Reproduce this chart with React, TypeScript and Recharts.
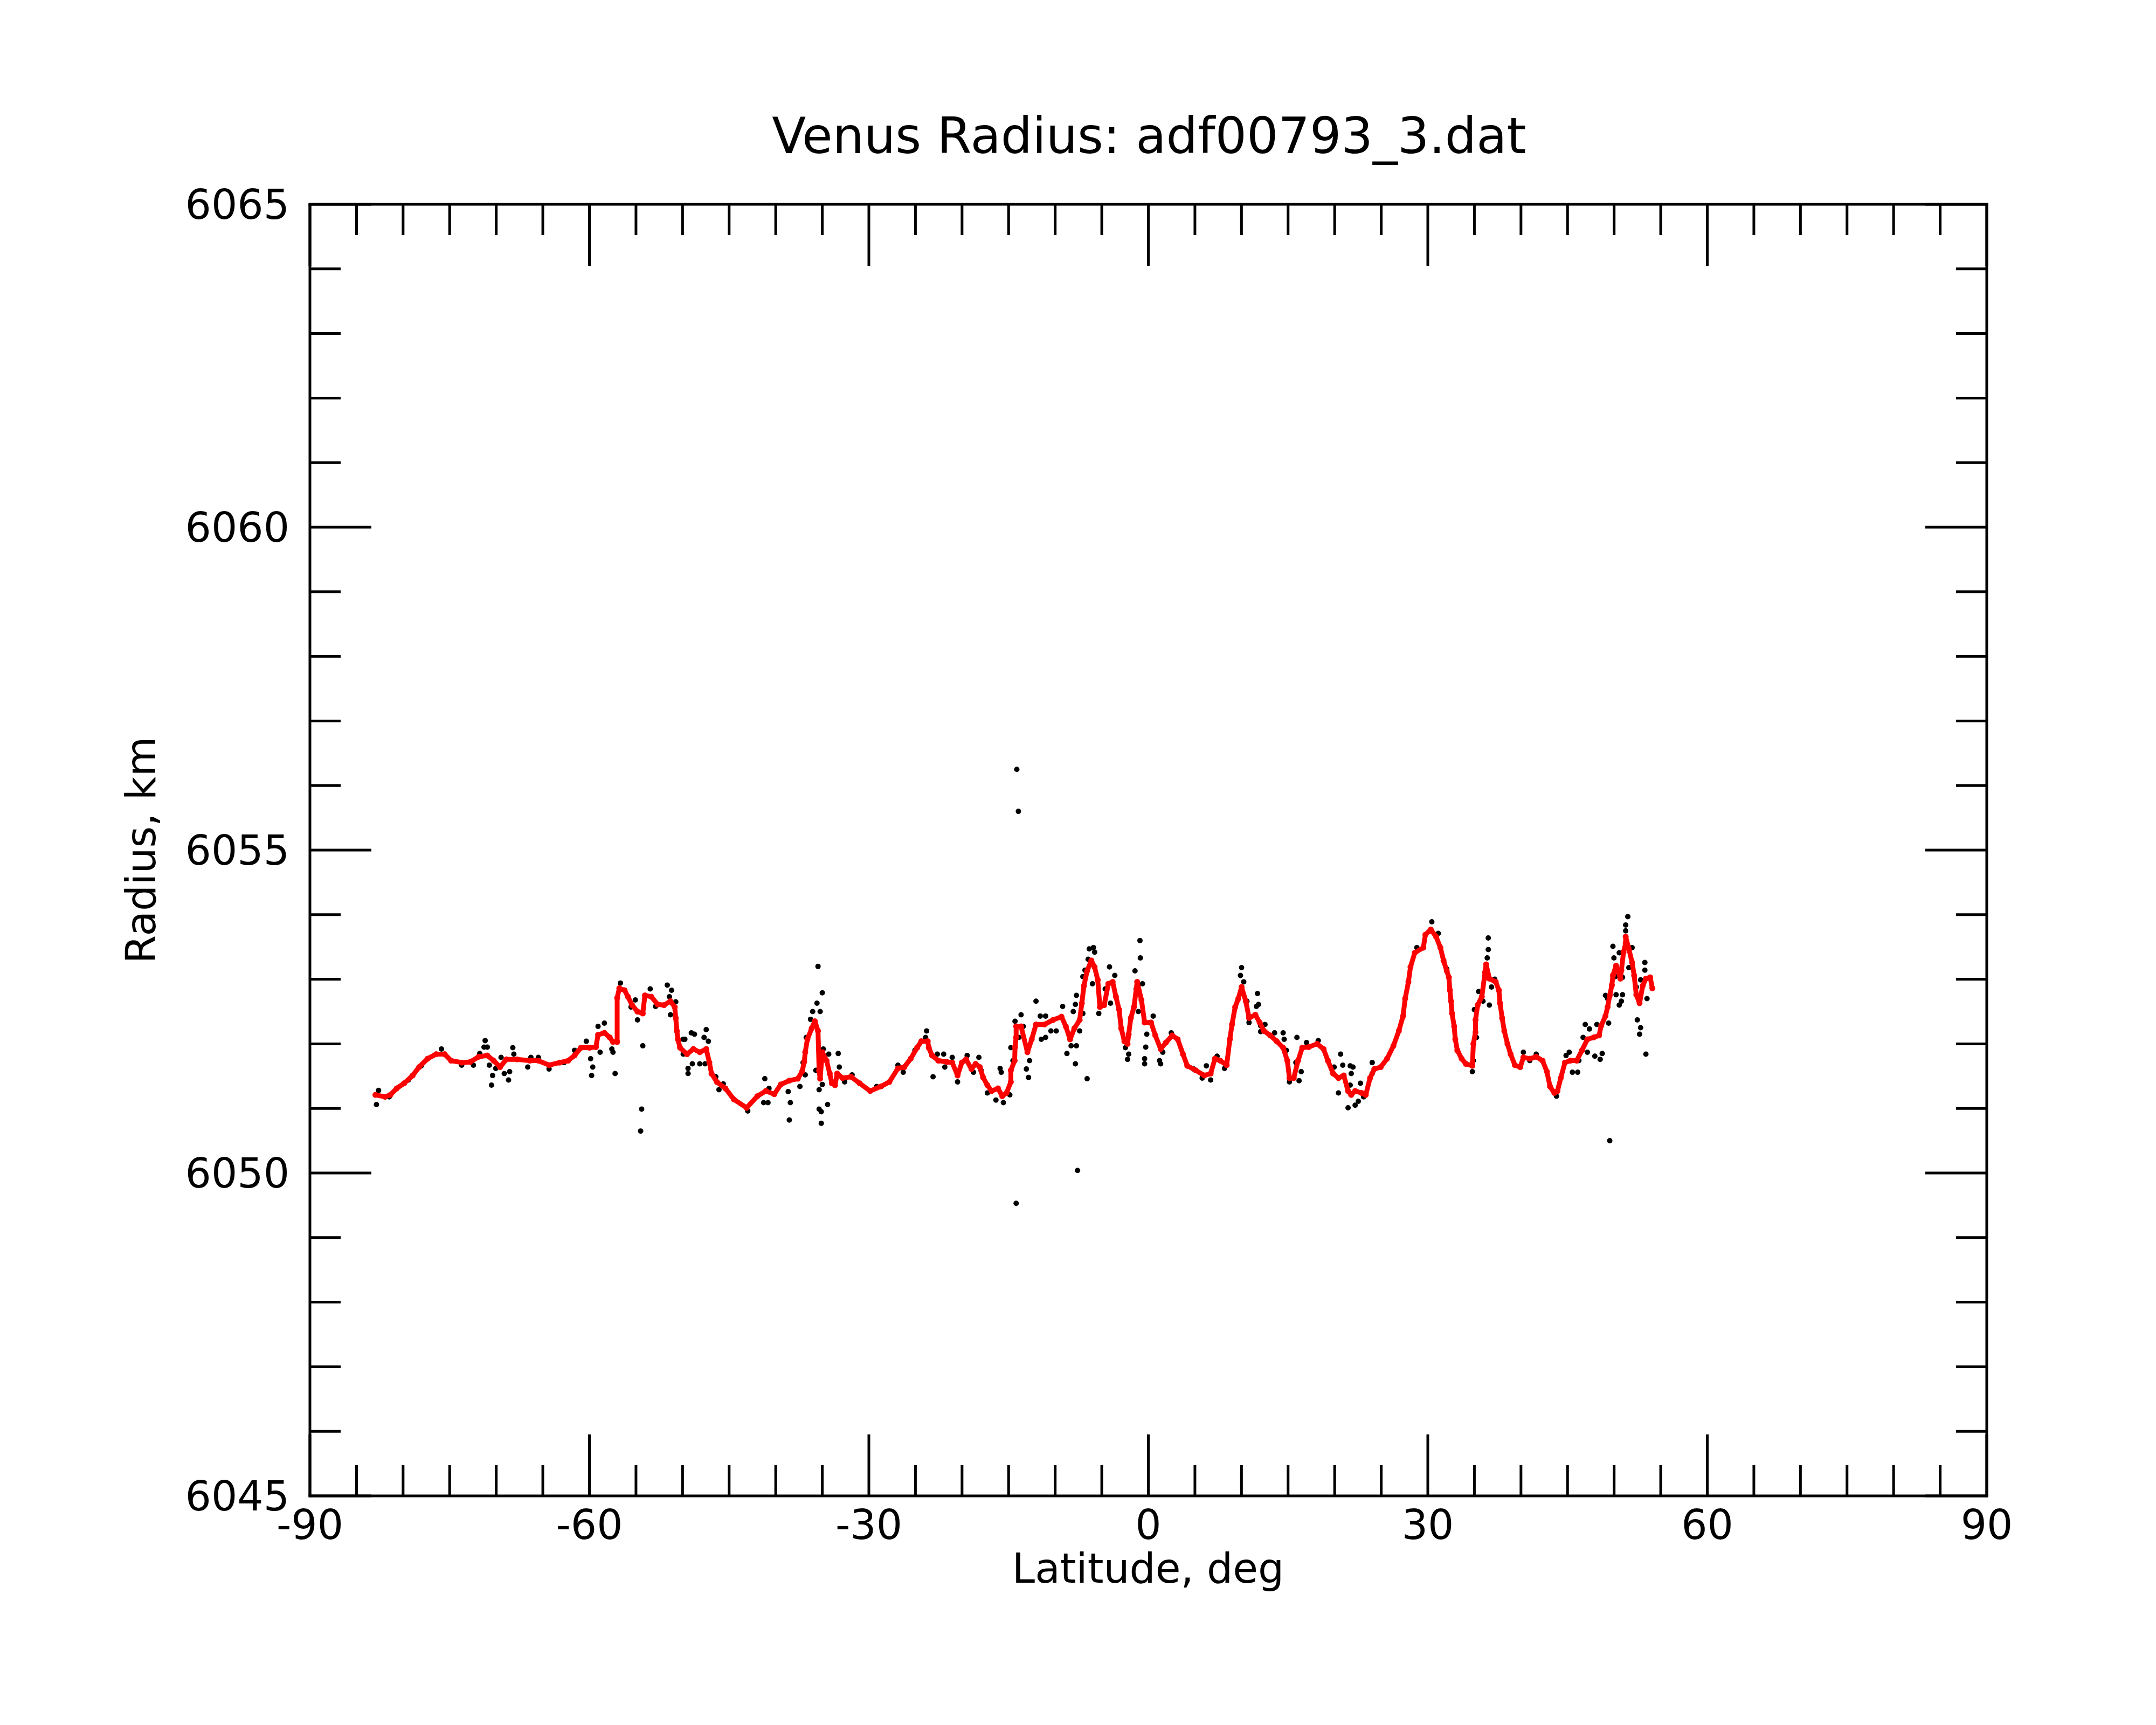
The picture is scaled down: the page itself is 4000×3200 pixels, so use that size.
import { Scatter, ScatterChart, XAxis, YAxis } from "recharts";

// Venus radius profile vs latitude: raw altimeter points (black) and the
// smoothed track (red).

const smoothLat = [
  -82.97, -81.94, -81.37, -80.68, -79.88, -78.97, -78.28, -77.37, -76.45, -75.54,
  -74.85, -73.71, -72.79, -71.88, -70.96, -70.28, -69.59, -68.91, -67.76, -66.39,
  -65.48, -64.33, -63.19, -62.28, -61.59, -60.9, -59.99, -59.3, -59.07, -58.39,
  -57.82, -57.47, -57.02, -57.02, -56.79, -56.22, -55.87, -55.41, -54.84, -54.27,
  -54.04, -53.36, -52.67, -51.99, -51.3, -50.84, -50.73, -50.61, -50.5, -50.27,
  -49.52, -48.84, -48.15, -47.46, -47.12, -46.89, -46.32, -45.4, -44.49, -43.12,
  -41.97, -41.06, -40.15, -39.46, -38.54, -37.63, -37.17, -36.94, -36.83, -36.6,
  -36.14, -35.8, -35.46, -35.34, -35.23, -35.0, -34.54, -34.2, -33.97, -33.63,
  -33.4, -32.83, -31.91, -31.0, -29.86, -28.71, -27.8, -26.88, -26.2, -25.51,
  -24.82, -24.37, -23.68, -23.57, -23.22, -22.54, -21.62, -21.05, -20.48, -20.02,
  -19.57, -18.99, -18.54, -18.08, -17.74, -17.28, -16.82, -16.14, -15.68, -15.22,
  -14.76, -14.76, -14.35, -14.31, -14.19, -14.19, -13.66, -12.98, -12.52, -12.06,
  -11.15, -10.23, -9.32, -8.86, -8.4, -7.94, -7.37, -7.14, -6.91, -6.57,
  -6.12, -5.77, -5.43, -5.2, -4.74, -4.29, -3.83, -3.48, -3.14, -2.91,
  -2.57, -2.23, -2.11, -1.88, -1.54, -1.2, -0.74, -0.4, 0.29, 0.75,
  1.32, 1.89, 2.57, 3.15, 3.72, 4.18, 5.09, 6.01, 6.69, 7.15,
  7.72, 8.41, 8.75, 8.98, 9.32, 9.66, 10.01, 10.46, 10.81, 11.49,
  11.95, 12.41, 13.09, 13.78, 14.47, 14.92, 15.15, 15.61, 16.07, 16.52,
  17.21, 18.12, 18.81, 19.27, 19.84, 20.41, 20.98, 21.44, 21.78, 22.2,
  22.88, 23.34, 23.8, 24.26, 24.94, 25.63, 26.31, 26.89, 27.34, 27.57,
  27.92, 28.14, 28.6, 29.52, 29.74, 30.32, 30.89, 31.35, 31.69, 32.03,
  32.26, 32.37, 32.49, 32.6, 32.83, 32.95, 33.17, 33.63, 34.09, 34.78,
  34.89, 35.12, 35.12, 35.35, 35.8, 36.15, 36.26, 36.61, 37.29, 37.63,
  37.75, 37.98, 38.21, 38.55, 38.89, 39.35, 39.92, 40.26, 40.95, 41.64,
  42.32, 42.78, 43.12, 43.58, 43.92, 44.27, 44.72, 45.3, 45.98, 46.55,
  47.13, 47.81, 48.38, 48.61, 49.07, 49.3, 49.53, 49.76, 49.87, 50.21,
  50.67, 50.78, 51.01, 51.24, 51.24, 51.58, 51.93, 52.15, 52.38, 52.73,
  53.07, 53.41, 53.87, 54.1,
];

const smoothRadius = [
  6051.21, 6051.18, 6051.21, 6051.31, 6051.39, 6051.51, 6051.64, 6051.77, 6051.84, 6051.84,
  6051.74, 6051.71, 6051.72, 6051.8, 6051.82, 6051.74, 6051.64, 6051.76, 6051.76, 6051.74,
  6051.74, 6051.67, 6051.71, 6051.74, 6051.82, 6051.94, 6051.94, 6051.95, 6052.14, 6052.17,
  6052.1, 6052.03, 6052.03, 6052.71, 6052.86, 6052.83, 6052.73, 6052.6, 6052.5, 6052.47,
  6052.75, 6052.73, 6052.61, 6052.6, 6052.66, 6052.57, 6052.4, 6052.2, 6052.07, 6051.94,
  6051.84, 6051.92, 6051.87, 6051.92, 6051.71, 6051.54, 6051.41, 6051.31, 6051.14, 6051.01,
  6051.19, 6051.27, 6051.22, 6051.37, 6051.43, 6051.46, 6051.57, 6051.72, 6051.87, 6052.07,
  6052.24, 6052.35, 6052.2, 6051.59, 6051.46, 6051.87, 6051.74, 6051.54, 6051.39, 6051.36,
  6051.54, 6051.47, 6051.49, 6051.39, 6051.27, 6051.34, 6051.41, 6051.62, 6051.64, 6051.77,
  6051.94, 6052.04, 6052.04, 6051.94, 6051.82, 6051.74, 6051.72, 6051.71, 6051.51, 6051.71,
  6051.76, 6051.61, 6051.69, 6051.64, 6051.48, 6051.36, 6051.27, 6051.31, 6051.19, 6051.24,
  6051.41, 6051.59, 6051.74, 6051.95, 6052.1, 6052.27, 6052.27, 6051.87, 6052.07, 6052.3,
  6052.3, 6052.37, 6052.42, 6052.27, 6052.07, 6052.24, 6052.37, 6052.63, 6052.9, 6053.13,
  6053.29, 6053.19, 6052.99, 6052.57, 6052.6, 6052.93, 6052.96, 6052.73, 6052.53, 6052.24,
  6052.04, 6052.0, 6052.15, 6052.4, 6052.57, 6052.96, 6052.68, 6052.33, 6052.33, 6052.13,
  6051.92, 6052.02, 6052.13, 6052.07, 6051.84, 6051.66, 6051.59, 6051.51, 6051.54, 6051.77,
  6051.74, 6051.67, 6052.07, 6052.3, 6052.57, 6052.7, 6052.88, 6052.66, 6052.4, 6052.45,
  6052.33, 6052.2, 6052.13, 6052.04, 6051.94, 6051.74, 6051.47, 6051.47, 6051.74, 6051.94,
  6051.95, 6052.0, 6051.92, 6051.74, 6051.54, 6051.47, 6051.51, 6051.27, 6051.21, 6051.27,
  6051.24, 6051.21, 6051.47, 6051.61, 6051.64, 6051.77, 6051.97, 6052.2, 6052.43, 6052.7,
  6052.96, 6053.19, 6053.41, 6053.49, 6053.69, 6053.77, 6053.66, 6053.49, 6053.29, 6053.13,
  6053.03, 6052.83, 6052.66, 6052.47, 6052.27, 6052.07, 6051.9, 6051.77, 6051.69, 6051.66,
  6052.0, 6052.18, 6052.37, 6052.6, 6052.73, 6053.11, 6053.23, 6053.01, 6052.96, 6052.83,
  6052.63, 6052.4, 6052.2, 6052.0, 6051.84, 6051.67, 6051.64, 6051.79, 6051.77, 6051.8,
  6051.74, 6051.57, 6051.34, 6051.24, 6051.27, 6051.47, 6051.71, 6051.74, 6051.74, 6051.9,
  6052.07, 6052.1, 6052.13, 6052.28, 6052.43, 6052.57, 6052.75, 6052.91, 6053.06, 6053.21,
  6053.01, 6053.14, 6053.42, 6053.56, 6053.66, 6053.47, 6053.26, 6053.06, 6052.76, 6052.63,
  6052.9, 6053.01, 6053.03, 6052.86,
];

const rawLat = [
  -82.86, -82.63, -81.48, -79.43, -78.05, -75.88, -73.71, -72.45, -71.77, -71.19,
  -71.31, -70.96, -70.74, -70.39, -70.51, -70.05, -69.48, -69.14, -68.56, -68.68,
  -68.22, -68.11, -66.62, -66.28, -65.48, -64.33, -62.73, -61.59, -60.33, -59.87,
  -59.64, -59.76, -59.07, -58.39, -58.85, -57.59, -57.47, -57.24, -56.67, -55.07,
  -55.53, -54.84, -54.27, -54.39, -54.5, -53.47, -52.9, -51.64, -51.18, -51.41,
  -51.3, -50.73, -49.93, -49.93, -49.75, -49.06, -48.72, -47.46, -47.69, -47.23,
  -49.41, -49.41, -48.95, -48.15, -47.58, -46.43, -46.09, -45.63, -43.0, -41.17,
  -41.29, -40.83, -40.72, -38.66, -38.43, -38.54, -37.4, -36.83, -37.06, -36.72,
  -36.26, -36.03, -35.57, -35.23, -35.0, -35.46, -35.69, -35.34, -35.0, -35.34,
  -35.11, -35.11, -34.43, -34.89, -34.31, -33.29, -33.17, -32.6, -31.8, -29.17,
  -26.88, -26.31, -25.05, -23.8, -23.91, -23.22, -23.11, -22.65, -21.97, -21.85,
  -21.05, -20.48, -19.45, -18.77, -18.19, -17.96, -17.28, -16.36, -15.91, -15.79,
  -15.56, -14.87, -14.76, -14.53, -14.31, -14.19, -14.12, -13.95, -13.66, -13.89,
  -13.43, -13.09, -12.86, -12.75, -12.06, -11.6, -11.49, -11.03, -11.03, -10.46,
  -9.89, -9.2, -8.74, -8.29, -7.83, -7.72, -8.06, -7.83, -7.72, -7.6,
  -7.37, -7.03, -7.03, -6.8, -6.57, -6.46, -6.34, -5.89, -5.77, -6.0,
  -5.32, -4.63, -4.17, -3.6, -4.06, -2.46, -2.23, -2.11, -1.43, -0.9,
  -0.86, -1.31, -1.08, -0.63, -0.74, -0.4, -0.4, -0.28, -0.17, 0.52,
  1.2, 1.32, 1.55, 2.46, 4.86, 5.78, 6.23, 6.69, 7.38, 8.18,
  9.89, 10.01, 10.24, 10.58, 10.81, 11.72, 11.6, 11.83, 12.06, 12.52,
  12.06, 13.55, 14.47, 14.58, 14.81, 15.15, 15.84, 15.95, 16.18, 16.41,
  16.98, 18.24, 19.95, 20.41, 20.64, 20.87, 21.44, 21.67, 21.67, 21.78,
  21.97, 22.2, 22.54, 22.77, 23.11, 24.03, 24.03, 28.83, 30.43, 31.12,
  32.03, 34.78, 34.89, 35.23, 35.0, 35.46, 35.92, 36.61, 36.49, 36.49,
  36.38, 36.84, 37.18, 40.26, 40.95, 41.64, 43.81, 44.84, 45.18, 45.52,
  46.09, 46.21, 46.9, 46.67, 47.13, 47.35, 47.93, 48.15, 48.5, 48.72,
  49.41, 49.07, 49.3, 49.53, 49.87, 49.98, 50.1, 50.21, 50.55, 50.78,
  50.55, 50.9, 50.9, 51.24, 51.47, 51.24, 51.58, 51.93, 52.38, 52.49,
  52.84, 52.73, 53.41, 53.3, 53.3, 52.84, 53.53,
];

const rawRadius = [
  6051.06, 6051.28, 6051.18, 6051.44, 6051.66, 6051.92, 6051.67, 6051.67, 6051.85, 6052.05,
  6051.95, 6051.95, 6051.67, 6051.51, 6051.36, 6051.62, 6051.79, 6051.54, 6051.57, 6051.44,
  6051.94, 6051.84, 6051.64, 6051.79, 6051.79, 6051.61, 6051.71, 6051.9, 6052.04, 6051.77,
  6051.64, 6051.51, 6052.27, 6052.32, 6051.87, 6051.92, 6051.87, 6051.54, 6052.94, 6052.68,
  6052.57, 6052.37, 6051.97, 6050.99, 6050.65, 6052.85, 6052.58, 6052.91, 6052.83, 6052.73,
  6052.45, 6052.65, 6052.07, 6051.84, 6052.07, 6052.17, 6052.15, 6052.22, 6052.1, 6052.04,
  6051.62, 6051.54, 6051.69, 6051.69, 6051.69, 6051.49, 6051.29, 6051.38, 6050.96, 6051.46,
  6051.09, 6051.09, 6051.31, 6051.26, 6051.09, 6050.82, 6051.34, 6051.52, 6051.71, 6052.1,
  6052.38, 6052.5, 6052.63, 6052.5, 6052.79, 6053.2, 6051.59, 6051.29, 6051.37, 6050.99,
  6050.95, 6050.77, 6051.06, 6051.92, 6051.84, 6051.85, 6051.64, 6051.41, 6051.52, 6051.34,
  6051.67, 6051.56, 6051.9, 6052.2, 6052.1, 6051.82, 6051.49, 6051.84, 6051.84, 6051.64,
  6051.79, 6051.41, 6051.82, 6051.56, 6051.79, 6051.59, 6051.24, 6051.13, 6051.62, 6051.56,
  6051.09, 6051.21, 6051.94, 6051.74, 6052.35, 6049.53, 6056.25, 6055.6, 6052.45, 6052.1,
  6052.27, 6051.61, 6051.48, 6051.74, 6052.66, 6052.43, 6052.07, 6052.43, 6052.1, 6052.2,
  6052.2, 6052.58, 6051.85, 6051.97, 6051.69, 6051.97, 6052.5, 6052.61, 6052.75, 6050.04,
  6052.2, 6052.47, 6053.04, 6053.14, 6051.46, 6053.31, 6053.47, 6053.49, 6053.42, 6052.93,
  6052.47, 6052.85, 6053.19, 6053.06, 6052.63, 6051.94, 6051.76, 6051.84, 6053.13, 6053.6,
  6053.33, 6052.85, 6052.5, 6052.93, 6052.68, 6051.77, 6051.69, 6051.95, 6052.15, 6052.43,
  6051.74, 6051.69, 6051.87, 6052.17, 6051.61, 6051.47, 6051.66, 6051.44, 6051.81, 6051.62,
  6053.06, 6053.18, 6052.96, 6052.66, 6052.33, 6052.78, 6052.58, 6052.61, 6052.28, 6052.3,
  6052.19, 6052.17, 6052.17, 6052.07, 6051.9, 6051.41, 6051.71, 6052.1, 6051.43, 6051.57,
  6052.02, 6052.05, 6051.64, 6051.24, 6051.84, 6051.67, 6051.01, 6051.66, 6051.36, 6051.54,
  6051.64, 6051.05, 6051.11, 6051.39, 6051.18, 6051.71, 6051.54, 6053.49, 6053.89, 6053.71,
  6053.16, 6051.57, 6051.74, 6052.1, 6052.53, 6052.81, 6052.66, 6052.6, 6053.64, 6053.46,
  6053.33, 6052.88, 6053.0, 6051.87, 6051.74, 6051.84, 6051.19, 6051.82, 6051.87, 6051.56,
  6051.56, 6051.74, 6052.3, 6052.1, 6051.87, 6052.23, 6051.81, 6052.3, 6051.76, 6051.85,
  6052.32, 6052.75, 6052.7, 6050.5, 6053.51, 6053.33, 6053.04, 6052.76, 6053.41, 6052.66,
  6052.6, 6052.76, 6053.03, 6053.84, 6053.97, 6053.75, 6053.18, 6053.49, 6052.88, 6052.37,
  6052.25, 6052.15, 6051.84, 6053.26, 6053.14, 6052.99, 6052.7,
];

const xTicks = [
  -90, -85, -80, -75, -70, -65, -60, -55, -50, -45, -40, -35, -30, -25, -20, -15, -10, -5, 0,
  5, 10, 15, 20, 25, 30, 35, 40, 45, 50, 55, 60, 65, 70, 75, 80, 85, 90,
];
const yTicks = [
  6045, 6046, 6047, 6048, 6049, 6050, 6051, 6052, 6053, 6054, 6055,
  6056, 6057, 6058, 6059, 6060, 6061, 6062, 6063, 6064, 6065,
];

const smoothData = smoothLat.map((lat, i) => ({ lat, r: smoothRadius[i] }));
const rawData = rawLat.map((lat, i) => ({ lat, r: rawRadius[i] }));

const FONT = "DejaVu Sans";
const LABEL_SIZE = 76;
const MAJOR = 114;
const MINOR = 57;
const TICK_W = 5;
const X_GAP = 26;
const Y_GAP = 38;

const frame = { stroke: "#000", strokeWidth: 5, strokeLinecap: "square" as const };

const isMajorX = (v: number) => v % 30 === 0;
const isMajorY = (v: number) => (v - 6045) % 5 === 0;

function BottomTick({ x, y, payload }: any) {
  const v = payload.value as number;
  const ay = y - X_GAP;
  return (
    <g>
      <line x1={x} x2={x} y1={ay} y2={ay - (isMajorX(v) ? MAJOR : MINOR)} stroke="#000" strokeWidth={TICK_W} />
      {isMajorX(v) && (
        <text x={x} y={y} dy="0.71em" textAnchor="middle" fontFamily={FONT} fontSize={LABEL_SIZE} fill="#000">
          {v}
        </text>
      )}
    </g>
  );
}

function TopTick({ x, y, payload }: any) {
  const v = payload.value as number;
  return <line x1={x} x2={x} y1={y} y2={y + (isMajorX(v) ? MAJOR : MINOR)} stroke="#000" strokeWidth={TICK_W} />;
}

function LeftTick({ x, y, payload }: any) {
  const v = payload.value as number;
  const ax = x + Y_GAP;
  return (
    <g>
      <line x1={ax} x2={ax + (isMajorY(v) ? MAJOR : MINOR)} y1={y} y2={y} stroke="#000" strokeWidth={TICK_W} />
      {isMajorY(v) && (
        <text x={x} y={y} dy="0.355em" textAnchor="end" fontFamily={FONT} fontSize={LABEL_SIZE} fill="#000">
          {v}
        </text>
      )}
    </g>
  );
}

function RightTick({ x, y, payload }: any) {
  const v = payload.value as number;
  return <line x1={x} x2={x - (isMajorY(v) ? MAJOR : MINOR)} y1={y} y2={y} stroke="#000" strokeWidth={TICK_W} />;
}

const RawDot = ({ cx, cy }: any) => <circle cx={cx} cy={cy} r={5} fill="#000" />;
const SmoothDot = ({ cx, cy }: any) => <circle cx={cx} cy={cy} r={5.5} fill="#ff0000" />;

export default function App() {
  return (
    <div style={{ position: "absolute", left: 0, top: 0, width: 4000, height: 3200, background: "#fff" }}>
      <ScatterChart width={4000} height={3200} margin={{ top: 329, right: 214, bottom: 325, left: 375 }}>
        <XAxis
          xAxisId="b"
          type="number"
          dataKey="lat"
          domain={[-90, 90]}
          ticks={xTicks}
          interval={0}
          allowDataOverflow
          height={100}
          tickSize={0}
          tickMargin={X_GAP}
          tickLine={false}
          axisLine={frame}
          tick={BottomTick}
        />
        <XAxis
          xAxisId="t"
          orientation="top"
          type="number"
          dataKey="lat"
          domain={[-90, 90]}
          ticks={xTicks}
          interval={0}
          allowDataOverflow
          height={50}
          tickSize={0}
          tickMargin={0}
          tickLine={false}
          axisLine={frame}
          tick={TopTick}
        />
        <YAxis
          yAxisId="l"
          type="number"
          dataKey="r"
          domain={[6045, 6065]}
          ticks={yTicks}
          interval={0}
          allowDataOverflow
          width={200}
          tickSize={0}
          tickMargin={Y_GAP}
          tickLine={false}
          axisLine={frame}
          tick={LeftTick}
        />
        <YAxis
          yAxisId="r"
          orientation="right"
          type="number"
          dataKey="r"
          domain={[6045, 6065]}
          ticks={yTicks}
          interval={0}
          allowDataOverflow
          width={100}
          tickSize={0}
          tickMargin={0}
          tickLine={false}
          axisLine={frame}
          tick={RightTick}
        />
        <Scatter
          xAxisId="b"
          yAxisId="l"
          data={rawData}
          shape={RawDot}
          isAnimationActive={false}
        />
        <Scatter
          xAxisId="b"
          yAxisId="l"
          data={smoothData}
          shape={SmoothDot}
          line={{ stroke: "#ff0000", strokeWidth: 9, strokeLinejoin: "round" }}
          lineType="joint"
          isAnimationActive={false}
        />
      </ScatterChart>
      <svg
        width={4000}
        height={3200}
        style={{ position: "absolute", left: 0, top: 0, pointerEvents: "none" }}
      >
        <text x={2132} y={284} textAnchor="middle" fontFamily={FONT} fontSize={92} fill="#000">
          Venus Radius: adf00793_3.dat
        </text>
        <text x={2130} y={2936} textAnchor="middle" fontFamily={FONT} fontSize={LABEL_SIZE} fill="#000">
          Latitude, deg
        </text>
        <text
          x={288}
          y={1577}
          transform="rotate(-90, 288, 1577)"
          textAnchor="middle"
          fontFamily={FONT}
          fontSize={LABEL_SIZE}
          fill="#000"
        >
          Radius, km
        </text>
      </svg>
    </div>
  );
}
